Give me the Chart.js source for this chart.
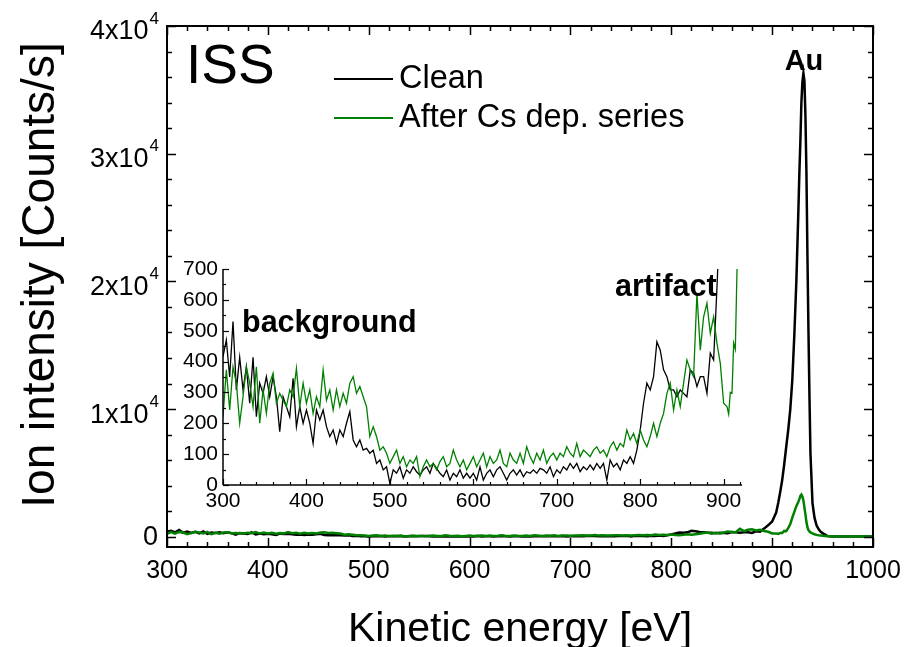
<!DOCTYPE html>
<html><head><meta charset="utf-8">
<script src="https://cdn.jsdelivr.net/npm/chart.js@4.4.0/dist/chart.umd.min.js"></script>
<style>
html,body{margin:0;padding:0;background:#fff;}
#wrap{position:relative;width:906px;height:647px;overflow:hidden;background:#fff;}
#main{position:absolute;left:0;top:0;}
#inset{position:absolute;left:160px;top:250px;}
</style></head><body>
<div id="wrap"><canvas id="main" width="906" height="647"></canvas><canvas id="inset" width="600" height="270"></canvas></div>
<script>
// ---- data ----
// low-energy part: energies 300, 304, ..., 888 eV (4 eV grid)
const lowStart = 300, lowStep = 4;
const cleanLow = [
 416,470,350,530,308,414,308,383,265,414,
 221,330,297,351,286,351,286,173,286,254,
 221,346,189,254,200,243,200,135,243,211,
 243,189,157,178,135,178,157,200,238,146,
 124,146,113,119,103,113,70,81,49,59,
 5,49,38,59,22,49,38,59,43,32,
 49,59,38,70,54,38,27,49,16,38,
 27,49,22,38,22,38,16,59,16,38,
 49,27,49,59,38,16,38,49,32,49,
 27,43,38,49,38,54,49,38,59,27,
 49,38,59,49,70,54,70,43,59,49,
 65,49,70,54,70,16,81,59,70,49,
 81,70,92,70,113,178,265,330,308,351,
 464,437,373,351,308,308,286,308,297,286,
 373,362,319,351,351,297,427,405
];
const csLow = [
 221,373,243,383,330,200,286,383,330,254,
 383,200,308,232,330,362,265,297,275,254,
 308,286,378,254,330,265,308,232,286,254,
 373,275,308,243,308,254,297,265,330,351,
 297,319,286,254,157,189,157,113,124,103,
 70,92,113,70,92,59,81,70,92,27,
 59,81,59,70,49,76,92,59,70,113,
 81,59,81,49,70,92,59,81,103,59,
 92,70,81,113,70,59,103,81,70,103,
 70,124,92,70,103,81,113,70,92,103,
 81,103,92,124,103,92,135,92,113,103,
 92,113,124,103,113,92,124,140,113,135,
 124,178,146,167,135,178,146,124,157,200,
 157,200,232,297,330,243,308,254,330,405,
 373,351,621,437,545,589,491,545
];
// Au peak region
const ePeak = [892,896,900,904,906,908,910,912,914,916,918,920,922,924,926,
 927,928,929,930,931,932,933,934,935,936,937,938,940,942,944,946,948,950,955,960,970,980,990,1000];
const cleanPeak = [640,900,1200,1900,2640,3500,4460,5700,7070,8400,10000,12290,15800,20000,25500,
 28500,31000,34000,35600,36300,35700,33000,28500,22000,16200,11000,6500,2640,1500,900,600,400,290,60,30,25,20,15,15];
const csPeak = [459,394,265,254,230,300,297,460,440,697,1000,1500,1950,2400,2750,
 2950,3200,3300,3150,2850,2300,1750,1150,750,520,420,340,260,200,150,120,100,80,50,35,25,20,20,15];

const seriesNames = ['Clean','After Cs dep. series'];
const xTicksMain = [300,400,500,600,700,800,900,1000];
const yTickLabels = ['0','1x10^4','2x10^4','3x10^4','4x10^4'];
const yTickValues = [0,10000,20000,30000,40000];

function pts(low, pe, pv){
  const out = [];
  low.forEach((v,i)=>out.push({x: lowStart + lowStep*i, y: v}));
  pe.forEach((e,i)=>out.push({x: e, y: pv[i]}));
  return out;
}
const cleanPts = pts(cleanLow, ePeak, cleanPeak);
const csPts = pts(csLow, ePeak, csPeak);

const FONT = "'Liberation Sans', Arial, Helvetica, sans-serif";
const GREEN = '#008000';

function seg(ctx,x1,y1,x2,y2){ctx.beginPath();ctx.moveTo(x1,y1);ctx.lineTo(x2,y2);ctx.stroke();}

const mainDecor = {
  id:'mainDecor',
  afterDraw(chart){
    const {ctx, chartArea:a, scales:{x,y}} = chart;
    ctx.save();
    ctx.strokeStyle='#000';
    ctx.lineWidth=2;
    ctx.strokeRect(a.left, a.top, a.right-a.left, a.bottom-a.top);
    ctx.lineWidth=1.5;
    for(let v=300; v<=1000; v+=20){
      const p = Math.round(x.getPixelForValue(v))+0.5;
      const L = (v%100===0)?9:5;
      seg(ctx,p,a.bottom,p,a.bottom-L);
      seg(ctx,p,a.top,p,a.top+L);
    }
    for(let v=0; v<=40000; v+=2000){
      const p = Math.round(y.getPixelForValue(v))+0.5;
      const L = (v%10000===0)?9:5;
      seg(ctx,a.left,p,a.left+L,p);
      seg(ctx,a.right,p,a.right-L,p);
    }
    ctx.fillStyle='#000';
    // x tick labels
    ctx.font = '25px '+FONT;
    ctx.textAlign='center'; ctx.textBaseline='middle';
    xTicksMain.forEach(v=>ctx.fillText(String(v), x.getPixelForValue(v), 571));
    // y tick labels with superscripts
    ctx.textAlign='left';
    yTickValues.forEach((v,i)=>{
      const parts = yTickLabels[i].split('^');
      const py = y.getPixelForValue(v) + (parts[1] ? 5 : 0);
      ctx.font = '27px '+FONT;
      const w1 = ctx.measureText(parts[0]).width;
      let w2 = 0;
      if(parts[1]){ ctx.font='17px '+FONT; w2 = ctx.measureText(parts[1]).width; }
      const x0 = 158 - w1 - w2;
      ctx.font = '27px '+FONT;
      ctx.fillText(parts[0], x0, py+1);
      if(parts[1]){ ctx.font='17px '+FONT; ctx.fillText(parts[1], x0+w1+1, py-12); }
    });
    // axis titles
    ctx.font = '41px '+FONT;
    ctx.textAlign='center'; ctx.textBaseline='alphabetic';
    ctx.fillText('Kinetic energy [eV]', (a.left+a.right)/2, 641);
    ctx.save();
    ctx.translate(54, 275);
    ctx.rotate(-Math.PI/2);
    ctx.font = '46px '+FONT;
    ctx.fillText('Ion intensity [Counts/s]', 0, 0);
    ctx.restore();
    // ISS
    ctx.textAlign='left';
    ctx.font = '55px '+FONT;
    ctx.fillText('ISS', 186, 83);
    // Au
    ctx.textAlign='center';
    ctx.font = 'bold 29px '+FONT;
    ctx.fillText('Au', 804, 70);
    // legend
    ctx.textAlign='left';
    ctx.font = '32.5px '+FONT;
    ctx.lineWidth=2;
    ctx.strokeStyle='#000'; seg(ctx,334,79,393,79);
    ctx.fillText(seriesNames[0], 399, 88);
    ctx.strokeStyle=GREEN; seg(ctx,334,118,393,118);
    ctx.fillText(seriesNames[1], 399, 127);
    ctx.restore();
  }
};

new Chart(document.getElementById('main'), {
  type:'line',
  data:{datasets:[
    {label:seriesNames[1], data:csPts, borderColor:GREEN, borderWidth:2.5, pointRadius:0, tension:0, order:0},
    {label:seriesNames[0], data:cleanPts, borderColor:'#000', borderWidth:2.5, pointRadius:0, tension:0, order:1}
  ]},
  options:{
    responsive:false, animation:false, events:[],
    layout:{padding:{top:26,right:33,left:0,bottom:0}},
    plugins:{legend:{display:false}, tooltip:{enabled:false}},
    scales:{
      x:{type:'linear', min:300, max:1000,
         grid:{display:false, drawTicks:false}, border:{display:false},
         ticks:{display:false, stepSize:100, includeBounds:false},
         afterFit:s=>{s.height=100;}},
      y:{type:'linear', min:-800, max:40000,
         grid:{display:false, drawTicks:false}, border:{display:false},
         ticks:{display:false, stepSize:10000, includeBounds:false},
         afterFit:s=>{s.width=167;}}
    }
  },
  plugins:[mainDecor]
});

const insetDecor = {
  id:'insetDecor',
  afterDraw(chart){
    const {ctx, chartArea:a, scales:{x,y}} = chart;
    ctx.save();
    ctx.strokeStyle='#000';
    ctx.lineWidth=1.5;
    seg(ctx,a.left,a.top,a.left,a.bottom);
    seg(ctx,a.left,a.bottom,a.right,a.bottom);
    ctx.lineWidth=1.2;
    for(let v=300; v<=920; v+=20){
      const p = Math.round(x.getPixelForValue(v))+0.5;
      const L = (v%100===0)?6:3;
      seg(ctx,p,a.bottom,p,a.bottom-L);
    }
    for(let v=0; v<=700; v+=50){
      const p = Math.round(y.getPixelForValue(v))+0.5;
      const L = (v%100===0)?6:3;
      seg(ctx,a.left,p,a.left+L,p);
    }
    ctx.fillStyle='#000';
    ctx.font='bold 30.5px '+FONT;
    ctx.textAlign='left'; ctx.textBaseline='alphabetic';
    ctx.fillText('background', 82, 82);
    ctx.fillText('artifact', 455, 46);
    ctx.restore();
  }
};

new Chart(document.getElementById('inset'), {
  type:'line',
  data:{datasets:[
    {label:seriesNames[1], data:csPts, borderColor:GREEN, borderWidth:1.3, pointRadius:0, tension:0, order:0},
    {label:seriesNames[0], data:cleanPts, borderColor:'#000', borderWidth:1.3, pointRadius:0, tension:0, order:1}
  ]},
  options:{
    responsive:false, animation:false, events:[],
    layout:{padding:{top:19,right:18,left:0,bottom:0}},
    plugins:{legend:{display:false}, tooltip:{enabled:false}},
    scales:{
      x:{type:'linear', min:300, max:922,
         grid:{display:false, drawTicks:false}, border:{display:false},
         ticks:{stepSize:100, includeBounds:false, autoSkip:false, maxRotation:0, padding:4,
                color:'#000', font:{family:FONT, size:21}, callback:v=>String(v)},
         afterFit:s=>{s.height=35;}},
      y:{type:'linear', min:0, max:700,
         grid:{display:false, drawTicks:false}, border:{display:false},
         ticks:{stepSize:100, includeBounds:false, padding:5,
                color:'#000', font:{family:FONT, size:21}, callback:v=>String(v)},
         afterFit:s=>{s.width=63;}}
    }
  },
  plugins:[insetDecor]
});
</script></body></html>
